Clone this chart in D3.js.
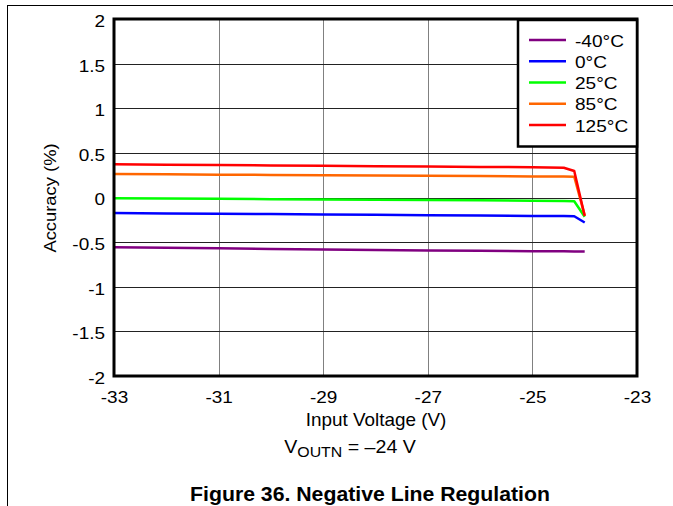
<!DOCTYPE html>
<html><head><meta charset="utf-8">
<script src="https://cdn.jsdelivr.net/npm/d3@7"></script>
<style>body{margin:0;background:#fff;}svg{display:block;font-family:"Liberation Sans",Arial,sans-serif;}</style>
</head><body><svg id="c" width="673" height="506"></svg>
<script>
const voltage = [-33,-32,-31,-30,-29,-28,-27,-26,-25,-24.4,-24.2,-24];
const seriesNames = ["-40\u00B0C","0\u00B0C","25\u00B0C","85\u00B0C","125\u00B0C"];
const seriesColors = ["#800080","#0000ff","#00ff00","#ff6600","#ff0000"];
const accM40 = [-0.558,-0.564,-0.570,-0.576,-0.582,-0.588,-0.593,-0.597,-0.601,-0.603,-0.604,-0.605];
const acc0   = [-0.174,-0.178,-0.182,-0.186,-0.190,-0.194,-0.198,-0.202,-0.206,-0.208,-0.210,-0.280];
const acc25  = [-0.008,-0.012,-0.015,-0.019,-0.022,-0.026,-0.029,-0.032,-0.036,-0.039,-0.042,-0.215];
const acc85  = [0.263,0.260,0.256,0.253,0.249,0.246,0.243,0.240,0.236,0.234,0.233,-0.200];
const acc125 = [0.372,0.368,0.363,0.359,0.355,0.351,0.347,0.343,0.339,0.334,0.297,-0.207];
const xTicks = [-33,-31,-29,-27,-25,-23];
const yTicks = [-2,-1.5,-1,-0.5,0,0.5,1,1.5,2];

const svg = d3.select("#c");
const L=114,R=637,T=19,B=376;
const x = d3.scaleLinear().domain([-33,-23]).range([L,R]);
const y = d3.scaleLinear().domain([-2,2]).range([B,T]);
const K = 1.15; // horizontal stretch of reference text

function stext(px, py, size, k, anchor, str, weight){
  return svg.append("text").attr("transform",`translate(${px},${py}) scale(${k},1)`)
    .attr("text-anchor",anchor).attr("font-size",size).attr("font-weight",weight||"normal").text(str);
}

// page frame
svg.append("line").attr("x1",7.5).attr("x2",7.5).attr("y1",5).attr("y2",506).attr("stroke","#000").attr("stroke-width",1);
svg.append("line").attr("x1",7).attr("x2",673).attr("y1",5.5).attr("y2",5.5).attr("stroke","#000").attr("stroke-width",1);

// grid
svg.append("g").selectAll("line").data(xTicks.slice(1,-1)).join("line")
  .attr("x1",d=>Math.round(x(d))+0.5).attr("x2",d=>Math.round(x(d))+0.5).attr("y1",T).attr("y2",B)
  .attr("stroke","#808080").attr("stroke-width",1);
svg.append("g").selectAll("line").data(yTicks.slice(1,-1)).join("line")
  .attr("y1",d=>Math.round(y(d))+0.5).attr("y2",d=>Math.round(y(d))+0.5).attr("x1",L).attr("x2",R)
  .attr("stroke","#222").attr("stroke-width",1);

// axes via d3 axes
const xAxis = svg.append("g").attr("transform",`translate(0,${B})`)
  .call(d3.axisBottom(x).tickValues(xTicks).tickSize(0).tickPadding(15).tickFormat(d=>String(d)));
xAxis.select(".domain").remove();
xAxis.selectAll("text").attr("font-size",16.5).attr("fill","#000")
  .style("font-family","Liberation Sans, Arial, sans-serif").attr("transform",`scale(${K},1)`);
const yAxis = svg.append("g").attr("transform",`translate(${L},0)`)
  .call(d3.axisLeft(y).tickValues(yTicks).tickSize(0).tickPadding(9).tickFormat(d=>String(d)));
yAxis.select(".domain").remove();
yAxis.selectAll("text").attr("font-size",16.5).attr("fill","#000").attr("dy","0.45em")
  .style("font-family","Liberation Sans, Arial, sans-serif")
  .attr("x",-9/K).attr("transform",`scale(${K},1)`);

// series
const all = [accM40,acc0,acc25,acc85,acc125];
const line = d3.line().x((d,i)=>x(voltage[i])).y(d=>y(d));
all.forEach((s,k)=>{
  svg.append("path").datum(s).attr("d",line).attr("fill","none")
    .attr("stroke",seriesColors[k]).attr("stroke-width",2.5).attr("stroke-linejoin","round");
});

// plot border
svg.append("rect").attr("x",L).attr("y",T).attr("width",R-L).attr("height",B-T)
  .attr("fill","none").attr("stroke","#000").attr("stroke-width",3);

// legend
svg.append("rect").attr("x",518).attr("y",20).attr("width",119).attr("height",126.5)
  .attr("fill","#fff").attr("stroke","#000").attr("stroke-width",2.5);
seriesNames.forEach((n,i)=>{
  const yy = 40 + i*21.25;
  svg.append("line").attr("x1",529).attr("x2",566).attr("y1",yy).attr("y2",yy)
    .attr("stroke",seriesColors[i]).attr("stroke-width",2.5);
  stext(575, yy+6.5, 16.3, 1.17, "start", n);
});

// titles
stext(376, 426, 17.5, 1.08, "middle", "Input Voltage (V)");
svg.append("text").attr("transform","translate(56,198) rotate(-90) scale(1.08,1)")
  .attr("text-anchor","middle").attr("font-size",17).text("Accuracy (%)");
const vt = svg.append("text").attr("transform","translate(350,453) scale(1.06,1)")
  .attr("text-anchor","middle").attr("font-size",18.5);
vt.append("tspan").text("V");
vt.append("tspan").attr("dy",4).attr("font-size",15).text("OUTN");
vt.append("tspan").attr("dy",-4).text(" = \u201324 V");
stext(370, 501, 19.5, 1.09, "middle", "Figure 36. Negative Line Regulation", "bold");
</script></body></html>
